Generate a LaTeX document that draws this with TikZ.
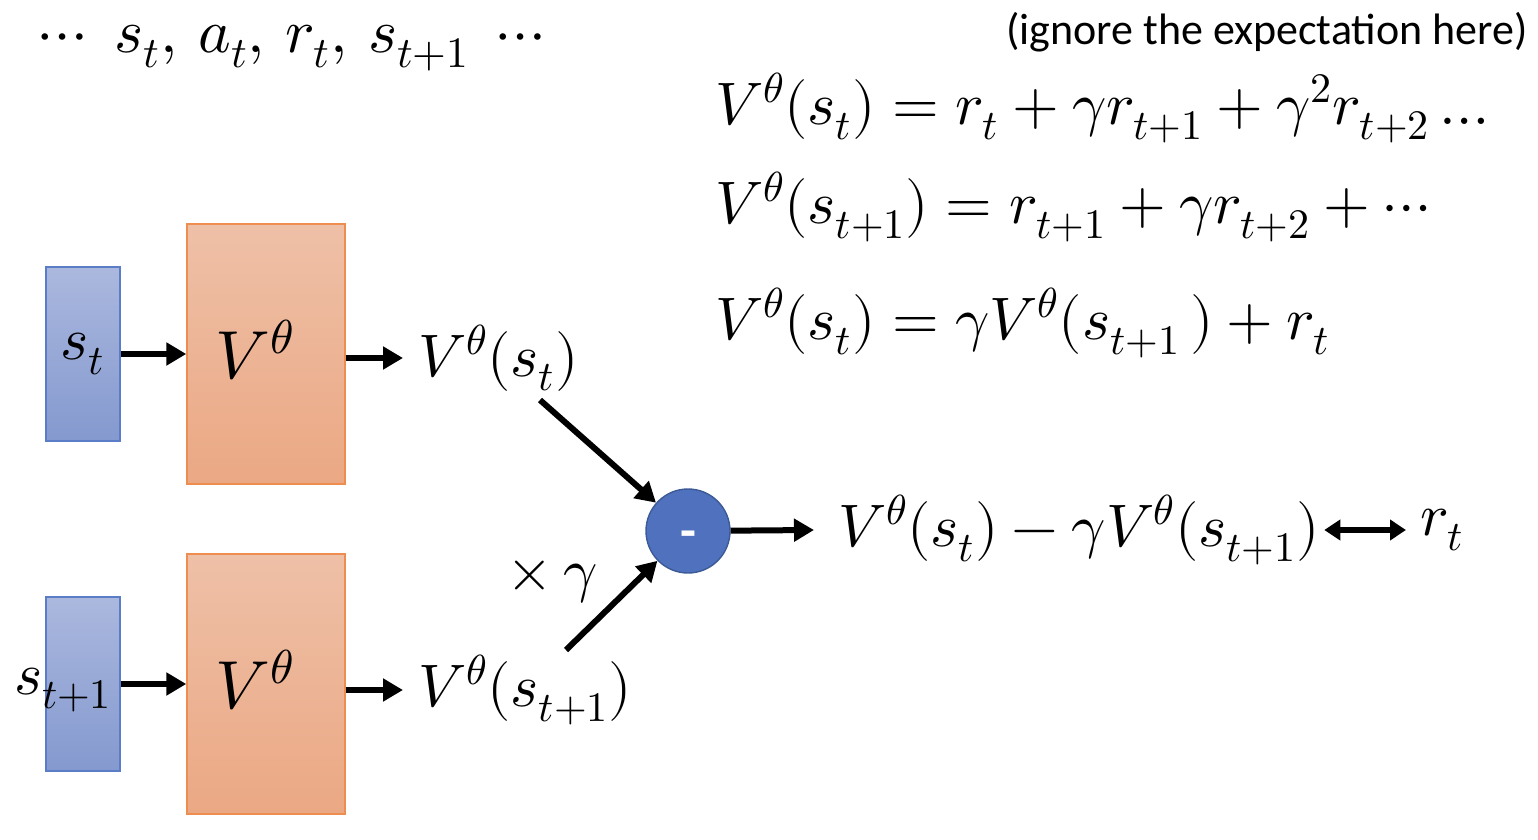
\documentclass[tikz,border=0pt]{standalone}
\usepackage{fontspec}
\usepackage{unicode-math}
\setmathfont{Latin Modern Math}
\newfontfamily\calib{Carlito}
\usetikzlibrary{arrows.meta}
\definecolor{bluetop}{HTML}{ABB8DE}
\definecolor{bluebot}{HTML}{8499CF}
\definecolor{blueedge}{HTML}{5B7DC8}
\definecolor{orgtop}{HTML}{EEC0A7}
\definecolor{orgbot}{HTML}{EBA884}
\definecolor{orgedge}{HTML}{EE8D50}
\definecolor{circfill}{HTML}{4F71BE}
\definecolor{circedge}{HTML}{3C5A96}
\tikzset{
  inbox/.style={rectangle, draw=blueedge, line width=0.7pt, top color=bluetop, bottom color=bluebot, minimum width=37pt, minimum height=87pt, inner sep=0pt, font=\fontsize{30}{36}\selectfont},
  netbox/.style={rectangle, draw=orgedge, line width=0.7pt, top color=orgtop, bottom color=orgbot, minimum width=79pt, minimum height=130pt, inner sep=0pt},
  boxlab/.style={font=\fontsize{34}{40}\selectfont, inner sep=0pt},
  arr/.style={line width=3pt, -{Triangle[length=10pt,width=11pt]}},
  darr/.style={line width=3pt, {Triangle[length=8pt,width=10pt]}-{Triangle[length=8pt,width=10pt]}},
  big/.style={font=\fontsize{30}{36}\selectfont, inner sep=0pt},
  note/.style={font=\calib\fontsize{22}{26}\selectfont, inner sep=0pt},
  minus/.style={circle, draw=circedge, line width=0.7pt, fill=circfill, minimum size=42pt, inner sep=0pt}
}
\begin{document}
\begin{tikzpicture}[x=0.5pt,y=-0.5pt]
\useasboundingbox (0,0) rectangle (1538,840);

% top texts
\node[big, font=\fontsize{31}{36}\selectfont] (seq) at (292,48) {$\cdots\; s_t,\, a_t,\, r_t,\, s_{t+1}\; \cdots$};
\node[note, anchor=east] (ign) at (1528,32) {(ignore the expectation here)};

% equations
\node[big, anchor=west] (e1) at (715,108) {$V^{\theta}(s_t) = r_t + \gamma r_{t+1} + \gamma^2 r_{t+2} \ldots$};
\node[big, anchor=west] (e2) at (715,207) {$V^{\theta}(s_{t+1}) = r_{t+1} + \gamma r_{t+2} + \cdots$};
\node[big, anchor=west] (e3) at (715,323) {$V^{\theta}(s_t) = \gamma V^{\theta}(s_{t+1}\,) + r_t$};

% network, upper
\node[inbox] (s1) at (83,354) {$s_t$};
\node[netbox] (v1) at (266,354) {};
\node[boxlab] (v1t) at (255,350) {$V^{\theta}$};
\node[big, anchor=west] (l1) at (418,358) {$V^{\theta}(s_t)$};

% network, lower
\node[inbox] (s2) at (83,684) {};
\node[big] (s2t) at (63,690) {$s_{t+1}$};
\node[netbox] (v2) at (266,684) {};
\node[boxlab] (v2t) at (255,680) {$V^{\theta}$};
\node[big, anchor=west] (l2) at (418,690) {$V^{\theta}(s_{t+1})$};

% minus node
\node[minus] (m) at (688,531) {};
\node[text=white, font=\calib\bfseries\fontsize{26}{28}\selectfont, inner sep=0pt] (mt) at (688,540) {-};
\node[big] (g) at (552,582) {$\times\,\gamma$};
\node[big, anchor=west] (d) at (838,530) {$V^{\theta}(s_t) - \gamma V^{\theta}(s_{t+1})$};
\node[big, anchor=west] (r) at (1420,530) {$r_t$};

\coordinate (a1) at (540,400);
\coordinate (a2) at (566,650);

% connectors
\draw[arr] (s1.east) -- (v1.west);
\draw[arr] (v1.east |- l1.west) -- ([xshift=-7.5pt]l1.west);
\draw[arr] (s2.east) -- (v2.west);
\draw[arr] (v2.east |- l2.west) -- ([xshift=-7.5pt]l2.west);
\draw[arr] (a1) -- (m);
\draw[arr] (a2) -- (m);
\draw[arr] (m) -- ([xshift=-12pt]d.west);
\draw[darr] ([xshift=2pt]d.east) -- ([xshift=-7pt]r.west);
\end{tikzpicture}
\end{document}
